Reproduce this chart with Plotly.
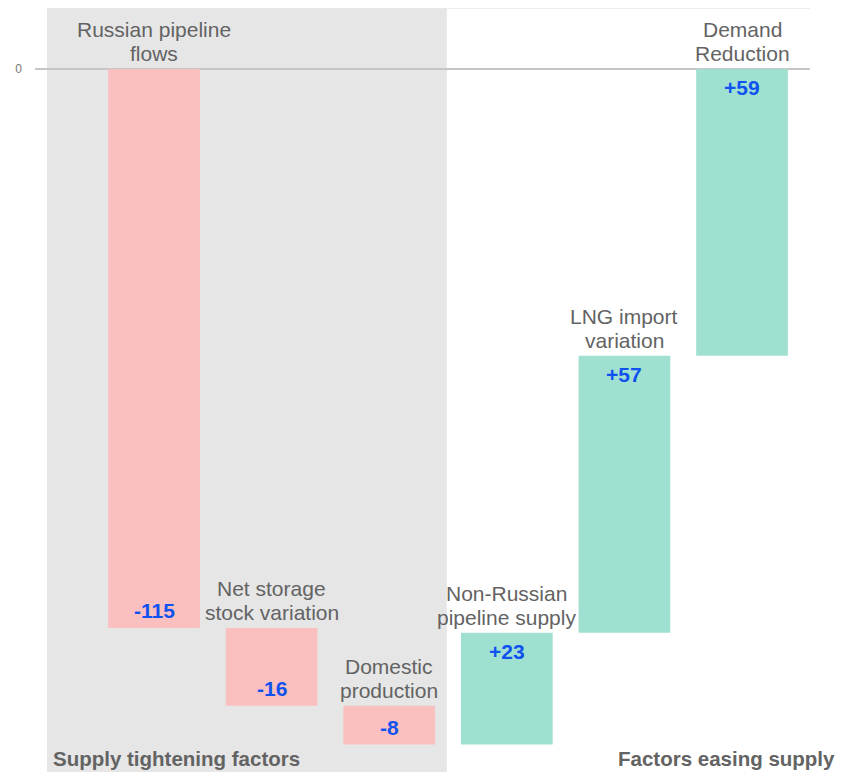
import numpy as np
import plotly.graph_objects as go

# gas balance drivers (bcm)
labels = ['Russian pipeline<br>flows', 'Net storage<br>stock variation', 'Domestic<br>production',
          'Non-Russian<br>pipeline supply', 'LNG import<br>variation', 'Demand<br>Reduction']
values = [-115, -16, -8, 23, 57, 59]
value_text = ['-115', '-16', '-8', '+23', '+57', '+59']

x = list(range(len(values)))
ends = np.cumsum(values)
starts = ends - np.array(values)
tops = np.maximum(starts, ends)

font = 'Liberation Sans, Arial, sans-serif'
grey_txt = '#636363'
blue_txt = '#0f52f0'

fig = go.Figure()
fig.add_trace(go.Waterfall(
    x=x, y=values, measure=['relative'] * len(values),
    width=0.78,
    decreasing=dict(marker=dict(color='#fabfbf')),
    increasing=dict(marker=dict(color='#a0e0d0')),
    connector=dict(visible=False),
    hoverinfo='skip',
))

# value labels at the far end of each bar
for xi, v, e, t in zip(x, values, ends, value_text):
    fig.add_annotation(x=xi, y=e, text='<b>%s</b>' % t, showarrow=False, yanchor='middle',
                       yshift=17 if v < 0 else -19,
                       font=dict(family=font, size=21, color=blue_txt))

# category names sit above each bar, two lines each
for xi, top, lab in zip(x, tops, labels):
    l1, l2 = lab.split('<br>')
    fig.add_annotation(x=xi, y=top, text=l1, showarrow=False, yanchor='middle', yshift=39,
                       font=dict(family=font, size=21, color=grey_txt))
    fig.add_annotation(x=xi, y=top, text=l2, showarrow=False, yanchor='middle', yshift=15.5,
                       font=dict(family=font, size=21, color=grey_txt))

# shaded "tightening" block
fig.add_shape(type='rect', xref='x', yref='paper', x0=-0.91, x1=2.49, y0=0, y1=1,
              fillcolor='#e6e6e6', line_width=0, layer='below')
fig.add_shape(type='line', xref='x', yref='paper', x0=2.49, x1=5.8, y0=1, y1=1,
              line=dict(color='#ececec', width=2), layer='below')

fig.add_annotation(xref='paper', yref='paper', x=0.0205, y=0.018, xanchor='left', yanchor='middle',
                   text='<b>Supply tightening factors</b>', showarrow=False,
                   font=dict(family=font, size=20.5, color=grey_txt))
fig.add_annotation(xref='paper', yref='paper', x=1.035, y=0.018, xanchor='right', yanchor='middle',
                   text='<b>Factors easing supply</b>', showarrow=False,
                   font=dict(family=font, size=20.5, color=grey_txt))

fig.update_xaxes(range=[-1.012, 5.578], showticklabels=False, showgrid=False, zeroline=False)
fig.update_yaxes(range=[-144.65, 12.55], tickvals=[0], showgrid=False, zeroline=True,
                 zerolinecolor='#c6c6c6', zerolinewidth=1.5, ticklabelstandoff=12,
                 tickfont=dict(family=font, size=12, color='#777'))
fig.update_layout(width=843, height=772, margin=dict(l=27, r=41, t=0, b=8),
                  plot_bgcolor='rgba(0,0,0,0)', paper_bgcolor='white', showlegend=False)

fig.write_html("out.html")
